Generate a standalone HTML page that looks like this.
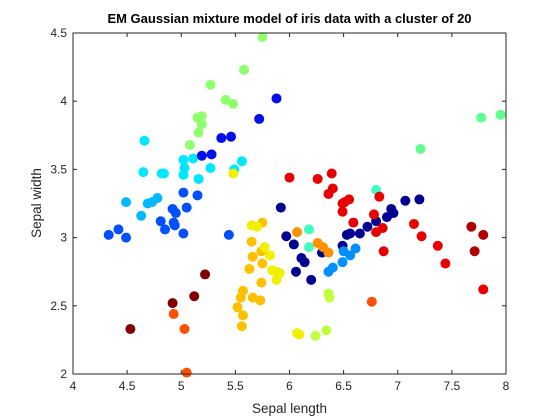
<!DOCTYPE html>
<html><head><meta charset="utf-8"><style>
html,body{margin:0;padding:0;background:#fff;}
svg{display:block;font-family:"Liberation Sans",Arial,sans-serif;}
</style></head><body>
<svg id="chart" width="560" height="420" viewBox="0 0 560 420" xmlns="http://www.w3.org/2000/svg">
<rect x="0" y="0" width="560" height="420" fill="#fff"/>
<text x="289.5" y="23" text-anchor="middle" font-size="13" font-weight="bold" fill="#000">EM Gaussian mixture model of iris data with a cluster of 20</text>
<g id="plot"></g>
<text x="289.5" y="413" text-anchor="middle" font-size="13.5" fill="#262626">Sepal length</text>
<text x="0" y="0" transform="translate(41,203) rotate(-90)" text-anchor="middle" font-size="13.5" fill="#262626">Sepal width</text>
</svg>
<script>
const xTicks = [4, 4.5, 5, 5.5, 6, 6.5, 7, 7.5, 8];
const yTicks = [2, 2.5, 3, 3.5, 4, 4.5];
const xTickLabels = ["4", "4.5", "5", "5.5", "6", "6.5", "7", "7.5", "8"];
const yTickLabels = ["2", "2.5", "3", "3.5", "4", "4.5"];
const clusterColors = ["#90ff70","#60ff90","#00e8ff","#00b8ff","#0050ff","#0010e8","#000090","#0090ff","#40ffc0","#ff9000","#ffc000","#f0f000","#c0ff40","#800000","#ff5000","#e80000","#b00000"];
const clusterLength = [
 [5.75,5.58,5.27,5.41,5.48,5.15,5.19,5.19,5.16,5.08],
 [7.21,7.77,7.95],
 [4.66,4.65,4.82,4.84,5.02,5.11,5.03,5.02,5.16,5.27,5.56,5.49],
 [4.49,4.69,4.73,4.78,4.63],
 [5.02,5.15,4.92,4.95,5.05,4.81,4.85,4.93,4.94,5.02,4.33,4.42,4.49,5.44],
 [5.88,5.72,5.37,5.46,5.19,5.28],
 [5.92,5.97,6.04,6.11,6.14,6.06,6.20,6.30,6.49,6.53,6.56,6.65,6.72,6.80,6.90,6.94,6.96,7.07,7.20],
 [6.36,6.40,6.49,6.50,6.56,6.61],
 [6.18,6.18,6.80],
 [6.07,6.26,6.31,6.36],
 [5.75,5.65,5.66,5.74,5.75,5.63,5.74,5.57,5.55,5.52,5.57,5.56,5.66,5.73],
 [5.48,5.65,5.70,5.77,5.82,5.84,5.88,5.88,5.91,6.07,6.09],
 [6.36,6.37,6.24,6.34],
 [5.22,5.12,4.92,4.53],
 [4.93,5.03,5.05,6.76],
 [6.00,6.26,6.39,6.40,6.36,6.49,6.51,6.55,6.49,6.83,6.59,6.78,6.86,6.80,6.87,7.15,7.22,7.37,7.44,7.79],
 [7.68,7.79,7.71]
];
const clusterWidth = [
 [4.47,4.23,4.12,4.01,3.98,3.88,3.89,3.83,3.77,3.68],
 [3.65,3.88,3.90],
 [3.71,3.48,3.47,3.47,3.57,3.58,3.51,3.46,3.43,3.51,3.56,3.50],
 [3.26,3.25,3.26,3.29,3.16],
 [3.33,3.31,3.21,3.18,3.22,3.12,3.06,3.11,3.09,3.03,3.02,3.06,3.00,3.02],
 [4.02,3.87,3.73,3.74,3.60,3.61],
 [3.22,3.01,2.95,2.85,2.82,2.75,2.69,2.89,2.94,3.02,3.03,3.03,3.08,3.12,3.15,3.21,3.18,3.27,3.28],
 [2.75,2.78,2.82,2.90,2.87,2.92],
 [3.06,2.93,3.35],
 [3.04,2.96,2.93,2.89],
 [3.11,2.97,2.86,2.90,2.81,2.77,2.67,2.61,2.56,2.49,2.43,2.35,2.56,2.54],
 [3.47,3.09,3.08,2.93,2.87,2.76,2.75,2.69,2.74,2.30,2.29],
 [2.59,2.56,2.28,2.32],
 [2.73,2.57,2.52,2.33],
 [2.44,2.33,2.01,2.53],
 [3.44,3.43,3.47,3.36,3.32,3.25,3.26,3.28,3.19,3.30,3.11,3.17,3.07,3.04,2.90,3.10,3.01,2.94,2.81,2.62],
 [3.08,3.02,2.90]
];

const NS = "http://www.w3.org/2000/svg";
const L = 73, R = 506, T = 33, B = 374;
const xMin = 4, xMax = 8, yMin = 2, yMax = 4.5;
function xScale(v){ return L + (v - xMin) / (xMax - xMin) * (R - L); }
function yScale(v){ return B - (v - yMin) / (yMax - yMin) * (B - T); }
const plot = document.getElementById('plot');
function mk(tag, attrs){ const e = document.createElementNS(NS, tag); for (const k in attrs) e.setAttribute(k, attrs[k]); return e; }

// points
for (let c = 0; c < clusterLength.length; c++) {
  const g = mk('g', {});
  
  
  for (let i = 0; i < clusterLength[c].length; i++) {
    const p = mk('circle', {cx: xScale(clusterLength[c][i]), cy: yScale(clusterWidth[c][i]), r: 5, fill: clusterColors[c]});
    
    
    g.appendChild(p);
  }
  plot.appendChild(g);
}

// axes box
const box = mk('rect', {x: L, y: T, width: R - L, height: B - T, fill: 'none', stroke: '#262626', 'stroke-width': 1});


plot.appendChild(box);

// x ticks
xTicks.forEach((t, i) => {
  const x = xScale(t);
  const a = mk('line', {x1: x, x2: x, y1: B, y2: B - 4, stroke: '#262626'});
  
  
  plot.appendChild(a);
  const b = mk('line', {x1: x, x2: x, y1: T, y2: T + 4, stroke: '#262626'});
  
  
  plot.appendChild(b);
  const lab = mk('text', {x: x, y: B + 16, 'text-anchor': 'middle', 'font-size': 12, fill: '#262626'});
  lab.textContent = xTickLabels[i];
  
  
  plot.appendChild(lab);
});
// y ticks
yTicks.forEach((t, i) => {
  const y = yScale(t);
  const a = mk('line', {x1: L, x2: L + 4, y1: y, y2: y, stroke: '#262626'});
  
  
  plot.appendChild(a);
  const b = mk('line', {x1: R, x2: R - 4, y1: y, y2: y, stroke: '#262626'});
  
  
  plot.appendChild(b);
  const lab = mk('text', {x: L - 6, y: y + 4, 'text-anchor': 'end', 'font-size': 12, fill: '#262626'});
  lab.textContent = yTickLabels[i];
  
  
  plot.appendChild(lab);
});
</script>
</body></html>
